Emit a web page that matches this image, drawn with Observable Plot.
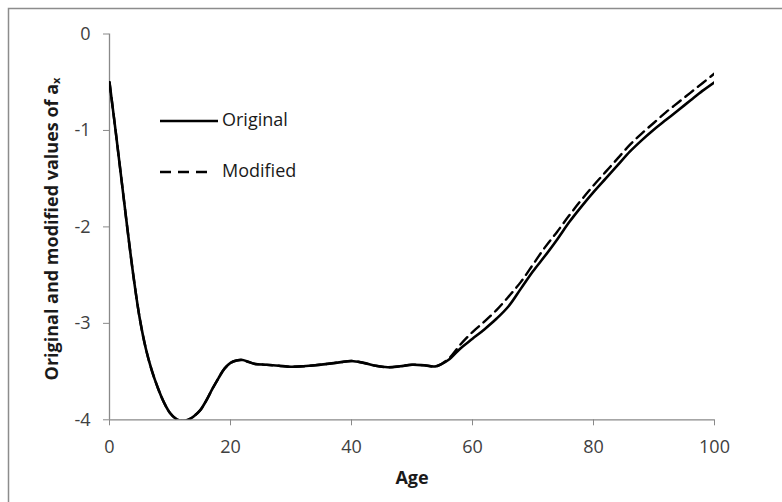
<!DOCTYPE html>
<html>
<head>
<meta charset="utf-8">
<script src="https://cdn.jsdelivr.net/npm/d3@7"></script>
<script src="https://cdn.jsdelivr.net/npm/@observablehq/plot@0.6"></script>
<style>
  body { margin: 0; background: #fff; }
  #chart { position: relative; width: 782px; height: 502px; overflow: hidden; }
</style>
</head>
<body>
<div id="chart"></div>
<script>
const ages     = [0,1,2,3,4,5,6,7,8,9,10,11,12,13,14,15,16,17,18,19,20,21,22,23,24,26,28,30,32,34,36,38,40,42,44,46,48,50,52,54,56,58,60,62,64,66,68,70,72,74,76,78,80,82,84,86,88,90,92,94,96,98,100];
const original = [-0.50,-1.00,-1.52,-2.04,-2.53,-2.95,-3.26,-3.49,-3.67,-3.82,-3.93,-3.99,-4.01,-4.00,-3.96,-3.90,-3.80,-3.68,-3.57,-3.47,-3.41,-3.385,-3.38,-3.40,-3.42,-3.43,-3.44,-3.45,-3.445,-3.435,-3.42,-3.405,-3.39,-3.41,-3.44,-3.455,-3.445,-3.43,-3.435,-3.445,-3.38,-3.26,-3.16,-3.06,-2.95,-2.82,-2.64,-2.46,-2.30,-2.13,-1.95,-1.79,-1.64,-1.50,-1.36,-1.22,-1.10,-0.99,-0.89,-0.79,-0.69,-0.59,-0.50];
const modified = [-0.50,-1.00,-1.52,-2.04,-2.53,-2.95,-3.26,-3.49,-3.67,-3.82,-3.93,-3.99,-4.01,-4.00,-3.96,-3.90,-3.80,-3.68,-3.57,-3.47,-3.41,-3.385,-3.38,-3.40,-3.42,-3.43,-3.44,-3.45,-3.445,-3.435,-3.42,-3.405,-3.39,-3.41,-3.44,-3.455,-3.445,-3.43,-3.435,-3.445,-3.37,-3.22,-3.09,-2.98,-2.86,-2.72,-2.57,-2.39,-2.21,-2.05,-1.88,-1.72,-1.57,-1.43,-1.29,-1.15,-1.03,-0.92,-0.81,-0.71,-0.61,-0.51,-0.41];
const xTicks = [0,20,40,60,80,100];
const yTicks = [-4,-3,-2,-1,0];
const seriesNames = ["Original","Modified"];
const xTitle = "Age";
const yTitle = "Original and modified values of a";
const yTitleSub = "x";

const origData = ages.map((a,i) => ({age:a, v:original[i]}));
const modData  = ages.map((a,i) => ({age:a, v:modified[i]}));

const axisColor = "#898989";
const textColor = "#404040";
const font = "'Open Sans', sans-serif";

const svg = Plot.plot({
  width: 782, height: 502,
  marginLeft: 109, marginRight: 68, marginTop: 33.5, marginBottom: 82.7,
  x: {domain: [0,100]},
  y: {domain: [-4,0]},
  style: {fontFamily: font, fontSize: "18px", background: "white", color: textColor},
  marks: [
    Plot.ruleX([0], {stroke: axisColor, strokeWidth: 1.3}),
    Plot.ruleY([-4], {stroke: axisColor, strokeWidth: 1.3}),
    Plot.axisX({ticks: xTicks, tickSize: 6, tickPadding: 14, stroke: axisColor, fill: textColor, label: null, fontSize: 18, tickFormat: d => String(d)}),
    Plot.axisY({ticks: yTicks, tickSize: 6, tickPadding: 13, stroke: axisColor, fill: textColor, label: null, fontSize: 18, tickFormat: d => String(d).replace("\u2212","-")}),
    Plot.line(modData, {x: "age", y: "v", stroke: "black", strokeWidth: 2.4, strokeDasharray: "10,6", curve: "catmull-rom", clip: true}),
    Plot.line(origData, {x: "age", y: "v", stroke: "black", strokeWidth: 2.6, curve: "catmull-rom", clip: true})
  ]
});

const s = d3.select(svg);
// outer frame (only top and left edges fall inside the picture)
s.append("path").attr("d", "M8.5,510 V8.5 H790").attr("fill","none").attr("stroke","#8c8c8c").attr("stroke-width",1.5);

// axis titles
s.append("text").attr("x", 412).attr("y", 479).attr("text-anchor","middle").attr("dominant-baseline","middle")
  .attr("font-family", font).attr("font-size", 18).attr("font-weight","bold").attr("fill","#1a1a1a").text(xTitle);
const yt = s.append("text").attr("transform","translate(53,229) rotate(-90)").attr("text-anchor","middle").attr("dominant-baseline","middle")
  .attr("font-family", font).attr("font-size", 18).attr("font-weight","bold").attr("fill","#1a1a1a");
yt.append("tspan").text(yTitle);
yt.append("tspan").attr("font-size", 11).attr("dy", 4).text(yTitleSub);

// legend
const lg = s.append("g");
lg.append("line").attr("x1",160).attr("x2",218).attr("y1",121).attr("y2",121).attr("stroke","black").attr("stroke-width",2.6);
lg.append("line").attr("x1",160).attr("x2",208).attr("y1",172).attr("y2",172).attr("stroke","black").attr("stroke-width",2.4).attr("stroke-dasharray","11,7");
lg.append("text").attr("x",222).attr("y",121).attr("text-anchor","start").attr("dominant-baseline","middle").attr("font-family",font).attr("font-size",18).attr("fill","#1a1a1a").text(seriesNames[0]);
lg.append("text").attr("x",222).attr("y",172).attr("text-anchor","start").attr("dominant-baseline","middle").attr("font-family",font).attr("font-size",18).attr("fill","#1a1a1a").text(seriesNames[1]);

document.getElementById("chart").appendChild(svg);
</script>
</body>
</html>
